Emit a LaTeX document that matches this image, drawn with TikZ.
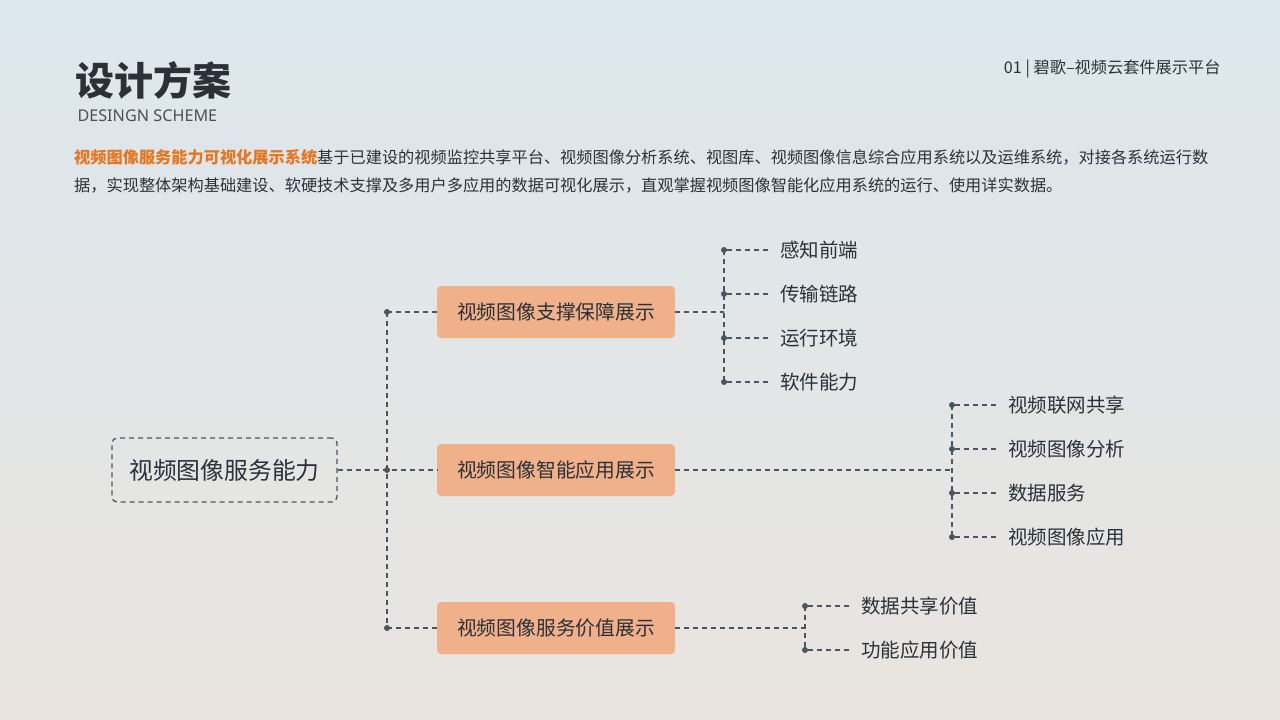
\documentclass[tikz,border=0pt]{standalone}
\usepackage{fontspec}
\setmainfont{Noto Sans CJK SC}
\newfontfamily\lat{Noto Sans}
\begin{document}
\definecolor{lnc}{HTML}{4A5560}
\definecolor{org}{HTML}{F0B08A}
\definecolor{txt}{HTML}{2A3138}
\definecolor{bgt}{HTML}{DCE7EE}
\definecolor{bgb}{HTML}{E9E4DF}
\begin{tikzpicture}[x=1bp,y=-1bp,
  ln/.style={draw=lnc,line width=1.3bp,dash pattern=on 5bp off 4bp},
  dot/.style={circle,fill=lnc,inner sep=0pt,minimum size=6bp},
  mid/.style={fill=org,rounded corners=4bp,minimum width=238bp,minimum height=52bp,font=\fontsize{19.8bp}{21bp}\selectfont,text=txt},
  leaf/.style={anchor=west,inner sep=0pt,font=\fontsize{19.5bp}{21bp}\selectfont,text=txt}]
\shade[top color=bgt,bottom color=bgb] (0,0) rectangle (1280,720);
\useasboundingbox (0,0) rectangle (1280,720);
\node[anchor=west,text=txt,font=\fontsize{39bp}{41bp}\selectfont\bfseries] (title) at (72,80) {设计方案};
\node[anchor=west,text=txt!85,font=\lat\fontsize{16.2bp}{17bp}\selectfont] (sub) at (74,116) {DESINGN SCHEME};
\node[anchor=east,text=txt,font=\fontsize{16.2bp}{17bp}\selectfont] (hdr) at (1224,69) {01 | 碧歌–视频云套件展示平台};
\node[anchor=north west,align=left,text=txt,font=\fontsize{16.2bp}{28bp}\selectfont,inner sep=0pt] (para) at (74,149)
{\textcolor[HTML]{E8761E}{\bfseries 视频图像服务能力可视化展示系统}基于已建设的视频监控共享平台、视频图像分析系统、视图库、视频图像信息综合应用系统以及运维系统，对接各系统运行数\\据，实现整体架构基础建设、软硬技术支撑及多用户多应用的数据可视化展示，直观掌握视频图像智能化应用系统的运行、使用详实数据。};
\node[draw=lnc,line width=1.3bp,dash pattern=on 5bp off 4bp,rounded corners=5bp,minimum width=225bp,minimum height=64bp,font=\fontsize{23.8bp}{25bp}\selectfont,text=txt] (root) at (224.5,470) {视频图像服务能力};
\node[mid] (m1) at (556,312) {视频图像支撑保障展示};
\node[mid] (m2) at (556,470) {视频图像智能应用展示};
\node[mid] (m3) at (556,628) {视频图像服务价值展示};
\coordinate (t1) at (387,312); \coordinate (t2) at (387,470); \coordinate (t3) at (387,628);
\draw[ln] (t1)--(t3); \draw[ln] (root)--(m2); \draw[ln] (t1)--(m1); \draw[ln] (t3)--(m3);
\foreach \c in {t1,t2,t3} \node[dot] at (\c) {};
\draw[ln] (m1.east)--(724,312); \draw[ln] (724,250)--(724,382);
\foreach \y/\t/\n in {250/感知前端/a1,294/传输链路/a2,338/运行环境/a3,382/软件能力/a4}{
  \node[dot] (d\n) at (724,\y) {}; \node[leaf] (\n) at (780,\y) {\t}; \draw[ln,shorten >=10bp] (d\n)--(\n.west);}
\draw[ln] (m2.east)--(952,470); \draw[ln] (952,405)--(952,537);
\foreach \y/\t/\n in {405/视频联网共享/b1,449/视频图像分析/b2,493/数据服务/b3,537/视频图像应用/b4}{
  \node[dot] (d\n) at (952,\y) {}; \node[leaf] (\n) at (1008,\y) {\t}; \draw[ln,shorten >=10bp] (d\n)--(\n.west);}
\draw[ln] (m3.east)--(805,628); \draw[ln] (805,606)--(805,650);
\foreach \y/\t/\n in {606/数据共享价值/c1,650/功能应用价值/c2}{
  \node[dot] (d\n) at (805,\y) {}; \node[leaf] (\n) at (861,\y) {\t}; \draw[ln,shorten >=10bp] (d\n)--(\n.west);}
\end{tikzpicture}
\end{document}
